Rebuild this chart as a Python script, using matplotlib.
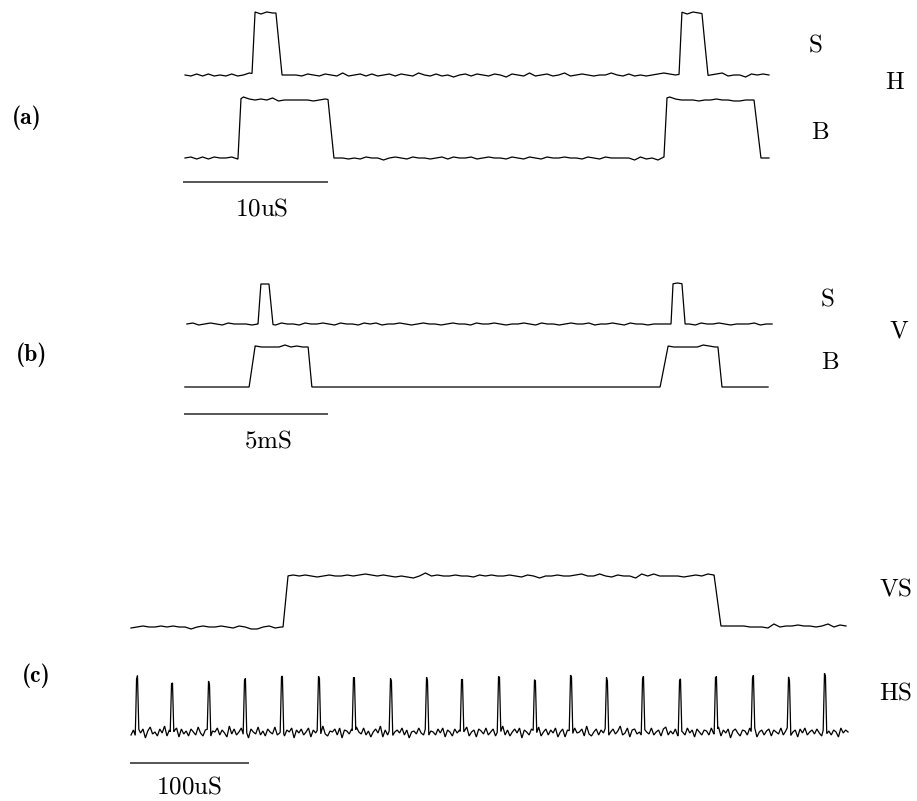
"""Scope traces of the H/V sync (S) and blanking (B) signals, plus VS/HS capture."""
import matplotlib
matplotlib.use("Agg")
import matplotlib.pyplot as plt
import numpy as np

plt.rcParams["mathtext.fontset"] = "cm"

W, H = 917, 801

# ---- (a) horizontal: time in us -------------------------------------------
a_S_span = (0.14, 40.41)
a_S_pulses = [(4.76, 4.97, 6.41, 6.83, 62), (34.21, 34.41, 35.79, 36.21, 62)]
a_S_ripple = [
    0, -1, 1, -1, 1, -1, 0, -1, 1, -1, 0, 2,
    1, -1, 1, 0, 0, 0, 0, 0, -1, 1, 0, -1,
    1, 0, -1, 2, -1, 0, 1, -1, 1, -1, 0, 1,
    -1, 1, 0, -1, 2, 0, -1, 1, -1, 0, -2, 0,
    1, -1, 1, 0, -1, 1, 0, -2, 1, 0, -1, 2,
    -1, 0, 1, -1, 0, 2, -1, 0, 1, 0, -1, 0,
    0, 2, 0, -1, 1, -1, 0, -1, 0, 1, 2, 1,
    0, 1, -1, 1, 0, -1, 0, 1, 2, -1, 0, 0,
    -2, 1, 0, 1, 0]

a_B_span = (0.14, 40.41)
a_B_pulses = [(3.79, 4.00, 10.00, 10.41, 58), (33.17, 33.38, 39.38, 39.86, 58)]
a_B_ripple = [
    0, 1, -1, 1, -1, 1, 0, 0, 1, -1, 3, 1,
    0, 1, 0, 2, -1, 0, 0, 0, 0, 0, -1, 0,
    1, 0, 0, 0, -1, 0, -1, 1, 0, 0, -2, 0,
    1, 0, -1, 1, 0, 0, -1, 0, 1, -1, 1, 0,
    0, 1, -1, 0, 1, 0, 0, -1, 1, 0, -1, 1,
    0, -1, 1, 0, 0, 1, 0, 0, -1, 1, 0, -1,
    1, 0, 0, 0, 0, -2, 1, -1, 0, -2, 1, 3,
    1, 0, 0, 0, -1, 0, 0, 1, 0, 0, -1, -1,
    0, 0, 0, 0, 0]

# ---- (b) vertical: time in ms ---------------------------------------------
b_S_span = (0.10, 20.42)
b_S_pulses = [(2.57, 2.67, 2.95, 3.09, 40), (16.91, 16.98, 17.29, 17.40, 40)]
b_S_ripple = [
    0, 1, -1, 0, 1, 0, -1, 1, 0, 0, 0, -1,
    0, 0, 0, -1, 1, 0, 0, -1, 1, 0, 0, 1,
    0, -1, 1, 0, 0, -1, 1, 0, 1, -1, 0, 0,
    1, 0, -1, 0, 1, 0, 0, -1, 0, 1, 0, 0,
    -1, 1, 0, 0, 1, 0, -1, 0, 0, 1, 0, -1,
    1, 0, 0, -1, 0, 1, 0, 0, 1, -1, 0, 0,
    1, 0, -1, 1, 0, 0, -1, 0, 0, 0, 0, 1,
    0, 0, -1, 1, 0, 0, 1, 0, -1, 0, 0, 0,
    1, -1, 0, 0]

b_B_span = (0.03, 20.28)
b_B_pulses = [(2.26, 2.47, 4.31, 4.44, 40), (16.53, 16.81, 18.54, 18.68, 40)]
b_B_ripple = [
    0, 0, 0, 0, 0, 0, 0, 0, 0, 0, 0, 0,
    1, 0, 0, 0, 0, 2, 0, 1, 0, 0, 0, 0,
    0, 0, 0, 0, 0, 0, 0, 0, 0, 0, 0, 0,
    0, 0, 0, 0, 0, 0, 0, 0, 0, 0, 0, 0,
    0, 0, 0, 0, 0, 0, 0, 0, 0, 0, 0, 0,
    0, 0, 0, 0, 0, 0, 0, 0, 0, 0, 0, 0,
    0, 0, 0, 0, 0, 0, 0, 0, 0, 0, 1, 0,
    0, 0, 0, 0, 2, 1, 0, 0, 0, 0, 0, 0,
    0, 0, 0, 0]

# ---- (c) VS / HS capture: time in us --------------------------------------
c_VS_span = (0.84, 601.7)
c_VS_pulses = [(128.6, 132.8, 490.8, 496.6, 51)]
c_VS_ripple = [
    -1, 0, 1, 0, 0, 1, 0, 1, 0, 0, -2, 0,
    1, 0, 0, 1, 0, -1, 1, 0, -2, -2, 0, 1,
    -1, 0, 0, 1, 0, 1, 0, -1, 0, 1, 0, 0,
    1, 0, 1, 2, 1, 0, 1, 0, -1, 0, -1, -2,
    0, 3, 0, 1, 0, 0, 1, 0, 0, -1, 1, 0,
    1, 0, 0, 1, 0, -1, 1, 0, -2, 0, 0, 1,
    0, 0, 1, 2, 0, 0, 2, 0, -1, 1, 0, 0,
    -2, 2, 0, 2, 0, 0, 0, 0, -1, 0, 1, 0,
    2, 1, 1, 1, 1, 1, 1, 0, 0, 0, -1, 3,
    0, 1, 1, 2, 1, 1, 0, 1, 3, 0, 2, 1]

c_HS_span = (0.84, 603.4)
hs_spike_times = [5.9, 35.3, 66.4, 96.6, 127.7, 158.8, 188.2, 219.3, 249.6, 279.0,
                  310.1, 340.3, 370.6, 400.8, 431.1, 462.2, 492.4, 523.5, 553.8, 584.0]
hs_spike_heights = [55, 51, 51, 54, 53, 54, 57, 52, 52, 55,
                    55, 52, 57, 52, 55, 51, 55, 55, 51, 55]
c_HS_ripple = [
    -3, 2, -5, 4, -1, 3, -6, 1, 5, -2, 0, -4,
    3, -1, 6, -4, 2, -3, 1, 4, -5, 3, -2, 1,
    -4, 3, 0, -3, 5, -1, -4, 2, 3, -6, 1, 0,
    4, -3, 2, -1, -5, 6, -2, 3, -3, 0, 4, -4,
    1, -6, 3, 0, -2, 5, -3, 1, -4, 3, 0, -2,
    5, -3, -1, 3, -4, 2, 0, 4, -6, 2, -1, 3,
    -3, 0, 4, -5, 2, -1, 3, -3, 6, -2, -4, 1,
    0, 3, -3, 4, -6, 2, 1, -2, 3, -4, 5, 0,
    -2, 4, -3, 1, -5, 0, 3, -1, 6, -5, 2, -3,
    3, -4, 0, 2, -1, 4, -3, 2, -6, 0, 1, -2,
    4, -1, -3, 5, -4, 1, 0, -3, 3, -1, 4, -5,
    2, 0, -4, 3, -1, 2, -3, 1, 5, -4, 0, 2,
    -5, 3, 1, -2, 4, -3, 0, 3, -4, 1, -1, 6,
    -3, 2, -4, 0, 3, -1, 4, -6, 2, 0, -3, 3,
    1, -2, 5, -4, 0, 3, -3, 2, -1, 4, -5, 0,
    3, -5, 2, 1, -3, 4, -1, 0, 3, -4, 6, -2,
    -4, 0, 3, -3, 2, -1, 5, -4, 0, 3, -2, 1,
    6, -3, -1, 4, -5, 2, 3, -2, 0, -4, 3, 0,
    -2, 4, -3, 0, 2, -4, 3, 5, -3, 1, -2, 3,
    -4, 2, 0, -3, 4, -1, 2, -5, 3, 0, -3, 2,
    1, -3, 4, -2, 0, 5, -4, 2, -1, 3, -6, 1,
    3, -1, -4, 2, 1, -3, 4, -2, 5, -5, 0, 2,
    -3, 1, 3, -4, 2, 0, -2, 4, -3, 1, 6, -4,
    0, 2, -5, 3, -1, 4, -3, 0, 2, -2, 3, -1,
    -4, 5, -2, 1, -3, 2, 0, -5, 4, -1, 2, 0]


def build_trace(span, ripple, pulses):
    """Sampled ripple plus trapezoid pulses (rise0, rise1, fall0, fall1, height)."""
    t = np.linspace(span[0], span[1], len(ripple))
    env_t, env_v = [span[0]], [0.0]
    for r0, r1, f0, f1, h in pulses:
        env_t += [r0, r1, f0, f1]
        env_v += [0.0, h, h, 0.0]
    env_t.append(span[1])
    env_v.append(0.0)
    tt = np.union1d(t, env_t)
    return tt, np.interp(tt, env_t, env_v) + np.interp(tt, t, ripple)


def trace_axes(fig, x0_px, px_per_unit, base_px):
    # full-figure axes: time 0 at x0_px, level 0 at base_px, 1 level unit = 1 px
    ax = fig.add_axes([0, 0, 1, 1])
    ax.set_xlim(-x0_px / px_per_unit, (W - x0_px) / px_per_unit)
    ax.set_ylim(-(H - base_px), base_px)
    ax.axis("off")
    return ax


fig = plt.figure(figsize=(W / 100, H / 100), dpi=100)

hs_pulses = [(c - 1.5, c - 0.4, c + 0.4, c + 1.5, h)
             for c, h in zip(hs_spike_times, hs_spike_heights)]

traces = [
    # span, ripple, pulses, x0 px, px/unit, baseline px
    (a_S_span, a_S_ripple, a_S_pulses, 183, 14.5, 75),
    (a_B_span, a_B_ripple, a_B_pulses, 183, 14.5, 158),
    (b_S_span, b_S_ripple, b_S_pulses, 184, 28.8, 324),
    (b_B_span, b_B_ripple, b_B_pulses, 184, 28.8, 387),
    (c_VS_span, c_VS_ripple, c_VS_pulses, 130, 1.19, 627),
    (c_HS_span, c_HS_ripple, hs_pulses, 130, 1.19, 732),
]
axes = []
for span, ripple, pulses, x0, scale, base in traces:
    ax = trace_axes(fig, x0, scale, base)
    t, v = build_trace(span, ripple, pulses)
    ax.plot(t, v, color="black", lw=0.9, solid_joinstyle="miter")
    axes.append(ax)

# scale bars: (axes index, length in that panel's units, level below baseline)
for idx, length, level in [(1, 10, -24), (3, 5, -27), (5, 100, -31)]:
    axes[idx].plot([0, length], [level, level], color="#555555", lw=1.4,
                   solid_capstyle="butt")

labels = [
    (r"$\mathrm{S}$", 815, 45), (r"$\mathrm{H}$", 895, 82), (r"$\mathrm{B}$", 820, 132),
    (r"$\mathrm{10uS}$", 262, 208),
    (r"$\mathrm{S}$", 827, 298), (r"$\mathrm{V}$", 899, 331), (r"$\mathrm{B}$", 830, 362),
    (r"$\mathrm{5mS}$", 268, 441),
    (r"$\mathrm{VS}$", 896, 589), (r"$\mathrm{HS}$", 896, 692),
    (r"$\mathrm{100uS}$", 189, 787),
]
for txt, x, y in labels:
    fig.text(x / W, 1 - y / H, txt, fontsize=18, ha="center", va="center")

for txt, x, y in [("(a)", 27, 118), ("(b)", 32, 355), ("(c)", 36, 676)]:
    fig.text(x / W, 1 - y / H, txt, fontsize=17, ha="center", va="center",
             family=["cmb10", "DejaVu Serif"])

fig.savefig("out.png", dpi=100)
